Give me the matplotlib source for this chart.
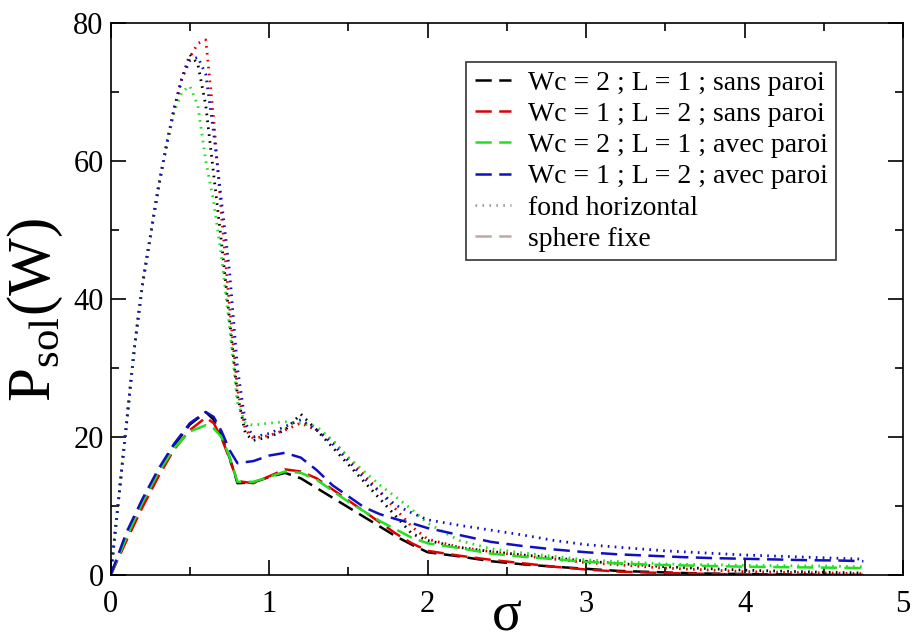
import matplotlib
matplotlib.use("Agg")
import matplotlib.pyplot as plt
from matplotlib.lines import Line2D

# ---- data ----
x_dash = [0, 0.1, 0.2, 0.3, 0.4, 0.5, 0.6, 0.65, 0.7, 0.75, 0.8, 0.9, 1.0, 1.1, 1.2, 1.3,
          1.4, 1.5, 1.6, 1.7, 1.8, 1.9, 2.0, 2.2, 2.4, 2.6, 2.8, 3.0, 3.2, 3.4, 3.6, 3.8,
          4.0, 4.2, 4.4, 4.6, 4.75]
y_black = [0, 5.5, 10.5, 14.8, 18.8, 21.8, 23.6, 22.5, 20.0, 17.0, 13.3, 13.4, 14.2, 14.8,
           14.0, 12.6, 11.2, 9.8, 8.4, 7.0, 5.6, 4.4, 3.3, 2.7, 2.0, 1.55, 1.2, 0.9, 0.6,
           0.45, 0.3, 0.2, 0.15, 0.1, 0.05, 0.0, 0.0]
y_red = [0, 5.0, 9.8, 14.2, 18.2, 21.0, 22.8, 22.0, 19.8, 16.8, 13.6, 13.3, 14.3, 15.3,
         15.0, 14.0, 12.4, 10.8, 9.2, 7.6, 6.0, 4.6, 3.5, 2.8, 2.2, 1.7, 1.2, 0.8, 0.5,
         0.35, 0.25, 0.15, 0.1, 0.05, 0.02, 0.0, 0.0]
y_green = [0, 5.5, 10.5, 14.8, 18.4, 20.8, 21.7, 21.2, 20.0, 17.1, 13.5, 13.5, 14.2, 15.0,
           14.8, 13.8, 12.2, 10.6, 9.2, 7.8, 6.6, 5.4, 4.6, 3.9, 3.1, 2.65, 2.3, 1.9, 1.7,
           1.5, 1.4, 1.3, 1.2, 1.15, 1.1, 1.05, 1.0]
y_blue = [0, 6.2, 11.0, 15.3, 19.0, 22.0, 23.6, 22.9, 20.8, 18.1, 16.2, 16.5, 17.3, 17.7,
          17.0, 15.2, 13.0, 11.4, 9.8, 8.8, 8.1, 7.5, 6.8, 5.8, 4.8, 4.2, 3.7, 3.3, 3.0,
          2.8, 2.6, 2.45, 2.35, 2.25, 2.15, 2.1, 2.0]

x_dot = [0, 0.05, 0.1, 0.15, 0.2, 0.25, 0.3, 0.35, 0.4, 0.45, 0.5, 0.55, 0.6, 0.65, 0.7,
         0.75, 0.8, 0.85, 0.9, 1.0, 1.1, 1.2, 1.3, 1.4, 1.5, 1.6, 1.7, 1.8, 1.9, 2.0, 2.2,
         2.4, 2.6, 2.8, 3.0, 3.5, 4.0, 4.5, 4.75]
yd_red = [0, 11, 22, 33, 42, 49, 56, 62, 67.5, 72, 75, 77, 77.5, 66, 52, 39, 27, 21, 19.8,
          20.2, 21, 22, 21, 19.5, 17, 14.5, 12, 9.5, 7, 5.2, 4.0, 3.4, 2.8, 2.3, 1.8, 1.0,
          0.5, 0.3, 0.2]
yd_black = [0, 11, 22, 33, 42, 49, 56, 62, 67.5, 72, 75.4, 74, 68, 58, 48, 37, 26, 20.5,
            19.5, 20, 21, 23.3, 21, 18.5, 16, 13.5, 11, 8.5, 6, 5, 4.0, 3.4, 2.9, 2.5, 2.0,
            1.2, 0.7, 0.4, 0.3]
yd_green = [0, 11, 22, 33, 42, 49, 56, 62, 67, 70, 70.8, 68, 60, 54, 46, 36, 25, 22, 21.7,
            22, 22.2, 22, 21.5, 19.5, 17, 15, 13, 11.3, 9.5, 7.5, 5.0, 3.8, 3.2, 2.7, 2.2,
            1.6, 1.4, 1.3, 1.2]
yd_blue = [0, 11, 22, 33, 42, 49, 56, 62, 67.5, 72, 74.5, 75, 72.5, 64, 54, 44, 30, 22, 20,
           20.5, 21.5, 22.5, 21, 19, 16.5, 14, 12, 10.1, 9, 8.0, 7.2, 6.5, 5.8, 5.0, 4.4,
           3.5, 2.9, 2.5, 2.3]

labels = ["Wc = 2 ; L = 1 ; sans paroi", "Wc = 1 ; L = 2 ; sans paroi",
          "Wc = 2 ; L = 1 ; avec paroi", "Wc = 1 ; L = 2 ; avec paroi",
          "fond horizontal", "sphere fixe"]
colors = ["#000000", "#e00000", "#20e020", "#1010c0"]

# ---- plot ----
plt.rcParams['font.family'] = ['Liberation Serif', 'DejaVu Serif']
plt.rcParams['mathtext.fontset'] = 'custom'
plt.rcParams['mathtext.rm'] = 'Liberation Serif'

fig = plt.figure(figsize=(9.14, 6.44), dpi=100)
ax = fig.add_axes([0.1211, 0.1071, 0.8669, 0.8577])

dash = (0, (6.5, 3))
dot = (0, (0.6, 1.9))
lw = 1.8

for yd, c in zip([yd_black, yd_red, yd_green, yd_blue], colors):
    ax.plot(x_dot, yd, color=c, lw=2.0, linestyle=dot, dash_capstyle='butt')

handles = []
for y, c, lab in zip([y_black, y_red, y_green, y_blue], colors, labels[:4]):
    h, = ax.plot(x_dash, y, color=c, lw=lw, linestyle=dash, label=lab)
    handles.append(h)

handles.append(Line2D([], [], color="#a0a0a0", lw=2.0, linestyle=dot, label=labels[4]))
handles.append(Line2D([], [], color="#c0a8a0", lw=lw, linestyle=dash, label=labels[5]))

ax.set_xlim(0, 5)
ax.set_ylim(0, 80)
ax.set_xticks([0, 1, 2, 3, 4, 5])
ax.set_xticks([0.5, 1.5, 2.5, 3.5, 4.5], minor=True)
ax.set_yticks([0, 20, 40, 60, 80])
ax.set_yticks([10, 30, 50, 70], minor=True)
ax.tick_params(which='both', direction='in', top=True, right=True, width=1.2)
ax.tick_params(which='major', length=11, labelsize=22)
ax.tick_params(axis='x', which='major', pad=11)
ax.tick_params(axis='y', which='major', pad=5)
ax.tick_params(which='minor', length=6)
for s in ax.spines.values():
    s.set_linewidth(1.2)

ax.set_xlabel("σ", fontsize=40, va='bottom')
ax.xaxis.set_label_coords(0.5, -0.122)
ax.set_ylabel(r"P$_{\mathrm{sol}}$(W)", fontsize=44)
ax.yaxis.set_label_coords(-0.058, 0.48)

leg = ax.legend(handles=handles, loc='upper left', bbox_to_anchor=(0.449, 0.929),
                borderaxespad=0, fontsize=20, frameon=True, fancybox=False,
                edgecolor='black', handlelength=1.3, handletextpad=0.6,
                labelspacing=0.21, borderpad=0.3)
leg.get_frame().set_linewidth(1.2)

fig.savefig("out.png", dpi=100)
